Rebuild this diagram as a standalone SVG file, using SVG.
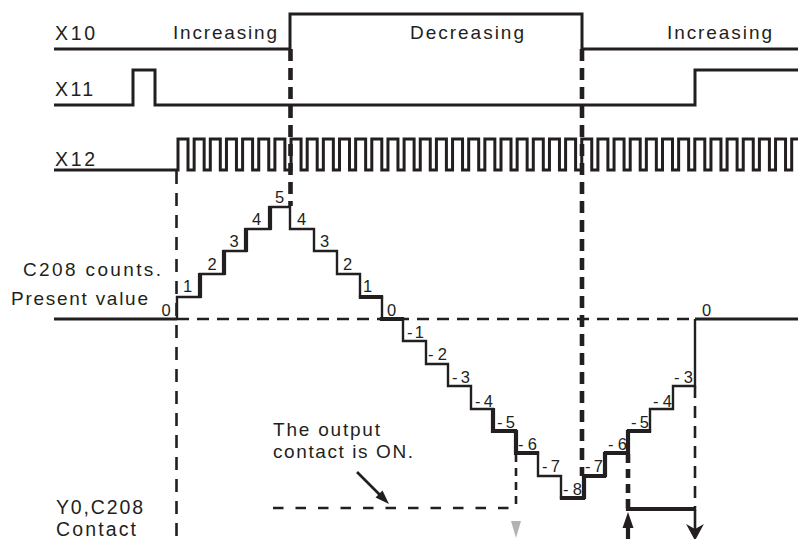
<svg xmlns="http://www.w3.org/2000/svg" width="798" height="539" viewBox="0 0 798 539">
<style>
.sig{fill:none;stroke:#231f20;stroke-width:3;stroke-linejoin:miter;stroke-linecap:butt}
.st{fill:none;stroke:#231f20;stroke-width:2.4;stroke-linejoin:miter}
.thk{fill:none;stroke:#231f20;stroke-width:4.2;stroke-linecap:square}
.dsh{fill:none;stroke:#231f20;stroke-width:2.6}
.dthk{fill:none;stroke:#231f20;stroke-width:4.6}
.lbl{font-family:"Liberation Sans",Arial,sans-serif;font-size:19px;fill:#231f20}
.big{font-size:19.5px}
.num{font-family:"Liberation Sans",Arial,sans-serif;font-size:16.5px;fill:#231f20}
</style>
<rect width="798" height="539" fill="#ffffff"/>
<g id="signal-X10">
<path class="sig" d="M54,49 H290 V14 H582 V49 H798"/>
<text class="lbl big" x="55" y="40" textLength="40" lengthAdjust="spacing">X10</text>
<text class="lbl" x="173" y="39" textLength="104" lengthAdjust="spacing">Increasing</text>
<text class="lbl" x="410" y="39" textLength="114" lengthAdjust="spacing">Decreasing</text>
<text class="lbl" x="667" y="39" textLength="105" lengthAdjust="spacing">Increasing</text>
</g>
<g id="signal-X11">
<path class="sig" d="M54,105 H133 V70 H155 V105 H695 V70 H798"/>
<text class="lbl big" x="55" y="96" textLength="38" lengthAdjust="spacing">X11</text>
</g>
<g id="signal-X12">
<path class="sig" d="M54,170 H178 v-31 h10 v31 h6.15 v-31 h10 v31 h6.15 v-31 h10 v31 h6.15 v-31 h10 v31 h6.15 v-31 h10 v31 h6.15 v-31 h10 v31 h6.15 v-31 h10 v31 h6.15 v-31 h10 v31 h6.15 v-31 h10 v31 h6.15 v-31 h10 v31 h6.15 v-31 h10 v31 h6.15 v-31 h10 v31 h6.15 v-31 h10 v31 h6.15 v-31 h10 v31 h6.15 v-31 h10 v31 h6.15 v-31 h10 v31 h6.15 v-31 h10 v31 h6.15 v-31 h10 v31 h6.15 v-31 h10 v31 h6.15 v-31 h10 v31 h6.15 v-31 h10 v31 h6.15 v-31 h10 v31 h6.15 v-31 h10 v31 h6.15 v-31 h10 v31 h6.15 v-31 h10 v31 h6.15 v-31 h10 v31 h6.15 v-31 h10 v31 h6.15 v-31 h10 v31 h6.15 v-31 h10 v31 h6.15 v-31 h10 v31 h6.15 v-31 h10 v31 h6.15 v-31 h10 v31 h6.15 v-31 h10 v31 h6.15 v-31 h10 v31 h6.15 v-31 h10 v31 h6.15 v-31 h10 v31 h6.15 v-31 h10 v31 h6.15 v-31 h10 v31 h6.15 v-31 H798"/>
<text class="lbl big" x="55" y="165.5" textLength="40" lengthAdjust="spacing">X12</text>
</g>
<g id="counter-C208">
<path class="sig" d="M54,319 H177"/>
<path class="sig" d="M695,319 H798"/>
<path class="st" d="M177,319 V297 H200 V274 H224 V251 H246 V229 H270 V207 H290 V229 H314 V251 H337 V274 H360 V297 H382 V319 H403 V341 H426 V364 H448 V386 H471 V409 H493 V431 H516 V453 H538 V476 H561 V498 H584 V476 H605 V453 H628 V431 H650 V409 H673 V386 H695 V319"/>
<path class="thk" d="M200,296 V275 M224,273 V252 M246,250 V230 M270,228 V208 M361,297 H381 M382,319 H402 M493,410 V431 M494,431 H515 M516,432 V453 M517,453 H537 M562,498 H583 M584,497 V477 M585,476 H604 M605,475 V454 M606,453 H627 M628,452 V432 M629,431 H649"/>
<text class="lbl" x="23" y="276" textLength="138" lengthAdjust="spacing">C208  counts.</text>
<text class="lbl" x="11" y="305" textLength="137" lengthAdjust="spacing">Present value</text>
<text class="num" x="161.5" y="316">0</text>
<text class="num" x="183" y="292">1</text>
<text class="num" x="207.5" y="270">2</text>
<text class="num" x="229.5" y="247">3</text>
<text class="num" x="252" y="225">4</text>
<text class="num" x="275" y="203">5</text>
<text class="num" x="297" y="225">4</text>
<text class="num" x="320" y="247">3</text>
<text class="num" x="343" y="270">2</text>
<text class="num" x="363" y="292">1</text>
<text class="num" x="387" y="316">0</text>
<text class="num" x="407" y="338" textLength="17" lengthAdjust="spacing">-1</text>
<text class="num" x="428" y="360" textLength="19" lengthAdjust="spacing">-2</text>
<text class="num" x="452" y="383" textLength="18" lengthAdjust="spacing">-3</text>
<text class="num" x="475" y="407" textLength="18" lengthAdjust="spacing">-4</text>
<text class="num" x="497" y="428" textLength="18" lengthAdjust="spacing">-5</text>
<text class="num" x="518" y="450" textLength="19" lengthAdjust="spacing">-6</text>
<text class="num" x="542" y="472" textLength="18" lengthAdjust="spacing">-7</text>
<text class="num" x="563" y="495" textLength="19" lengthAdjust="spacing">-8</text>
<text class="num" x="585" y="472" textLength="18" lengthAdjust="spacing">-7</text>
<text class="num" x="608" y="450" textLength="19" lengthAdjust="spacing">-6</text>
<text class="num" x="631" y="428" textLength="18" lengthAdjust="spacing">-5</text>
<text class="num" x="653" y="407" textLength="19" lengthAdjust="spacing">-4</text>
<text class="num" x="674" y="383" textLength="19" lengthAdjust="spacing">-3</text>
<text class="num" x="702" y="316">0</text>
</g>
<g id="contact-Y0">
<text class="lbl big" x="56" y="514" textLength="87" lengthAdjust="spacing">Y0,C208</text>
<text class="lbl big" x="56" y="536" textLength="80" lengthAdjust="spacing">Contact</text>
<path class="dsh" d="M273,508 H516" stroke-dasharray="10.5 12"/>
<path class="thk" d="M628,509 H694" stroke-linecap="butt"/>
<text class="lbl" x="273" y="436" textLength="107" lengthAdjust="spacing">The output</text>
<text class="lbl" x="273" y="458" textLength="140" lengthAdjust="spacing">contact is ON.</text>
</g>
<g id="connectors">
<path class="dsh" d="M176.5,171 V539" stroke-dasharray="13 9"/>
<path class="dsh" d="M177,319 H695" stroke-dasharray="12 8"/>
<path class="dthk" d="M290.5,49 V206" stroke-dasharray="12 7"/>
<path class="dthk" d="M582,49 V476" stroke-dasharray="12 7"/>
<path class="dsh" d="M516,454 V508" stroke-dasharray="8 6"/>
<path class="dthk" d="M628,454 V508" stroke-dasharray="9 6" stroke-width="4"/>
<path class="dsh" d="M695,386 V508" stroke-dasharray="12 8"/>
<path d="M511,521 L521,521 L516,538 Z" fill="#b3b3b3"/>
<path d="M628,527 V539" stroke="#231f20" stroke-width="4.2" fill="none"/>
<path d="M628,512 L633.5,528 L622.5,528 Z" fill="#231f20"/>
<path d="M695,509 V534" stroke="#231f20" stroke-width="2.6" fill="none"/>
<path d="M695,539 L688,526 L695,530 L702,526 Z" fill="#231f20" stroke="#231f20" stroke-width="1.5" stroke-linejoin="miter"/>
<path d="M357,472 L383,498" stroke="#231f20" stroke-width="2.6" fill="none"/>
<path d="M389,504 L375.5,497.5 L382.5,490.5 Z" fill="#231f20"/>
</g>
</svg>
